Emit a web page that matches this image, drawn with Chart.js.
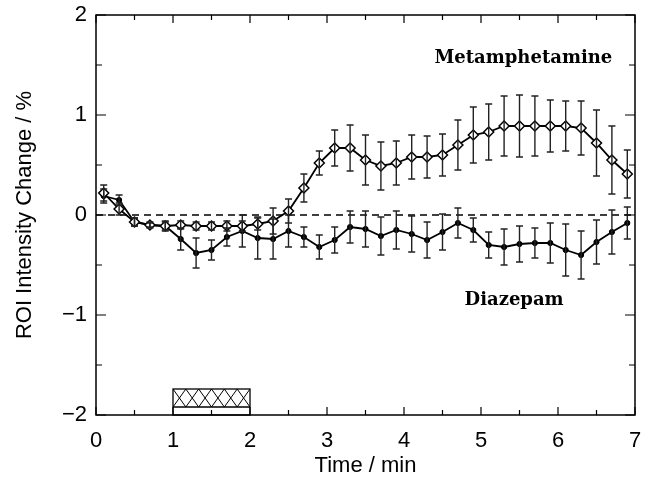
<!DOCTYPE html>
<html lang="en">

<head>
    <meta charset="utf-8">
    <title>ROI intensity change</title>
    <script src="https://cdn.jsdelivr.net/npm/chart.js@4.4.1/dist/chart.umd.min.js"></script>
    <style>
        html, body { margin: 0; padding: 0; background: #fff; }
        #wrap { position: relative; width: 645px; height: 484px; }
    </style>
</head>

<body>
    <div id="wrap">
        <canvas id="roi"></canvas>
    </div>
    <script>
        // sample times (min)
        const times = [0.1, 0.3, 0.5, 0.7, 0.9, 1.1, 1.3, 1.5, 1.7, 1.9,
            2.1, 2.3, 2.5, 2.7, 2.9, 3.1, 3.3, 3.5, 3.7, 3.9,
            4.1, 4.3, 4.5, 4.7, 4.9, 5.1, 5.3, 5.5, 5.7, 5.9,
            6.1, 6.3, 6.5, 6.7, 6.9];

        const methValues = [0.22, 0.06, -0.07, -0.10, -0.11,
            -0.10, -0.11, -0.11, -0.11, -0.11,
            -0.09, -0.06, 0.04, 0.27, 0.52,
            0.67, 0.67, 0.55, 0.49, 0.52,
            0.58, 0.58, 0.60, 0.70, 0.80,
            0.83, 0.89, 0.89, 0.89, 0.89,
            0.89, 0.87, 0.72, 0.55, 0.41];
        const methErrors = [0.08, 0.06, 0.04, 0.02, 0.04,
            0.04, 0.04, 0.04, 0.05, 0.05,
            0.06, 0.13, 0.12, 0.14, 0.12,
            0.18, 0.23, 0.25, 0.24, 0.22,
            0.22, 0.21, 0.21, 0.25, 0.28,
            0.28, 0.30, 0.31, 0.30, 0.26,
            0.25, 0.27, 0.33, 0.34, 0.24];

        const diazValues = [0.19, 0.15, -0.07, -0.10, -0.11,
            -0.24, -0.38, -0.35, -0.22, -0.16,
            -0.23, -0.24, -0.16, -0.22, -0.32,
            -0.25, -0.12, -0.14, -0.21, -0.15,
            -0.19, -0.25, -0.17, -0.08, -0.15,
            -0.30, -0.32, -0.29, -0.28, -0.28,
            -0.35, -0.40, -0.27, -0.17, -0.08];
        const diazErrors = [0.07, 0.05, 0.04, 0.03, 0.05,
            0.11, 0.15, 0.10, 0.09, 0.16,
            0.21, 0.20, 0.16, 0.10, 0.12,
            0.13, 0.16, 0.18, 0.19, 0.19,
            0.18, 0.18, 0.18, 0.15, 0.12,
            0.13, 0.18, 0.18, 0.15, 0.20,
            0.26, 0.24, 0.22, 0.22, 0.16];

        // drug application bar (min) and its vertical extent (%)
        const stimulus = [1, 2];
        const stimulusLevels = [-2, -1.92, -1.74];

        // text labels: [text, x, y]
        const seriesLabels = [['Metamphetamine', 5.55, 1.57], ['Diazepam', 5.43, -0.85]];

        const toPoints = (values) => times.map((t, i) => ({ x: t, y: values[i] }));
        const errorSets = [methErrors, diazErrors];

        const decorPlugin = {
            id: 'decor',
            beforeDatasetsDraw(chart) {
                const { ctx, chartArea: area, scales: { x, y } } = chart;
                ctx.save();
                // zero line
                ctx.strokeStyle = '#000';
                ctx.lineWidth = 1.5;
                ctx.setLineDash([7, 5]);
                ctx.beginPath();
                ctx.moveTo(area.left, y.getPixelForValue(0));
                ctx.lineTo(area.right, y.getPixelForValue(0));
                ctx.stroke();
                ctx.setLineDash([]);

                // hatched stimulus bar
                const x0 = x.getPixelForValue(stimulus[0]);
                const x1 = x.getPixelForValue(stimulus[1]);
                const yb = y.getPixelForValue(stimulusLevels[0]);
                const ym = y.getPixelForValue(stimulusLevels[1]);
                const yt = y.getPixelForValue(stimulusLevels[2]);
                ctx.fillStyle = '#fff';
                ctx.fillRect(x0, yt, x1 - x0, yb - yt);
                ctx.save();
                ctx.beginPath();
                ctx.rect(x0, yt, x1 - x0, ym - yt);
                ctx.clip();
                ctx.lineWidth = 1;
                const cell = (x1 - x0) / 6;
                ctx.beginPath();
                for (let px = x0 - cell; px < x1 + cell; px += cell) {
                    ctx.moveTo(px, ym);
                    ctx.lineTo(px + cell, yt);
                    ctx.moveTo(px, yt);
                    ctx.lineTo(px + cell, ym);
                }
                ctx.stroke();
                ctx.restore();
                ctx.lineWidth = 1.3;
                ctx.strokeRect(x0, yt, x1 - x0, yb - yt);
                ctx.beginPath();
                ctx.moveTo(x0, ym);
                ctx.lineTo(x1, ym);
                ctx.stroke();
                ctx.restore();
            },
            afterDatasetsDraw(chart) {
                const { ctx, chartArea: area, scales: { x, y } } = chart;
                ctx.save();
                // error bars
                ctx.strokeStyle = '#222';
                ctx.lineWidth = 1.4;
                chart.data.datasets.forEach((ds, di) => {
                    const errs = errorSets[di];
                    ds.data.forEach((p, i) => {
                        const px = x.getPixelForValue(p.x);
                        const top = y.getPixelForValue(p.y + errs[i]);
                        const bot = y.getPixelForValue(p.y - errs[i]);
                        ctx.beginPath();
                        ctx.moveTo(px, top);
                        ctx.lineTo(px, bot);
                        ctx.moveTo(px - 3.5, top);
                        ctx.lineTo(px + 3.5, top);
                        ctx.moveTo(px - 3.5, bot);
                        ctx.lineTo(px + 3.5, bot);
                        ctx.stroke();
                    });
                });

                // frame and inward ticks
                ctx.strokeStyle = '#000';
                ctx.lineWidth = 1.5;
                ctx.strokeRect(area.left, area.top, area.right - area.left, area.bottom - area.top);
                ctx.lineWidth = 1.2;
                ctx.beginPath();
                for (let v = 0; v <= 14; v++) {
                    const px = x.getPixelForValue(v / 2);
                    const len = v % 2 === 0 ? 8 : 5;
                    ctx.moveTo(px, area.bottom);
                    ctx.lineTo(px, area.bottom - len);
                    ctx.moveTo(px, area.top);
                    ctx.lineTo(px, area.top + len);
                }
                for (let v = -4; v <= 4; v++) {
                    const py = y.getPixelForValue(v / 2);
                    const len = v % 2 === 0 ? 10 : 6;
                    ctx.moveTo(area.left, py);
                    ctx.lineTo(area.left + len, py);
                    ctx.moveTo(area.right, py);
                    ctx.lineTo(area.right - len, py);
                }
                ctx.stroke();

                // series labels
                ctx.fillStyle = '#000';
                ctx.font = 'bold 18px "DejaVu Serif"';
                ctx.textAlign = 'center';
                ctx.textBaseline = 'middle';
                seriesLabels.forEach(([text, lx, ly]) => {
                    ctx.fillText(text, x.getPixelForValue(lx), y.getPixelForValue(ly));
                });
                ctx.restore();
            }
        };

        const tickFont = { family: '"Liberation Sans", Arial, sans-serif', size: 22 };

        // keep the plot box fixed: no extra room reserved for overhanging tick labels
        const fixBox = (size) => (scale) => {
            if (scale.isHorizontal()) {
                scale.height = size;
            } else {
                scale.width = size;
            }
            scale.paddingTop = 0;
            scale.paddingBottom = 0;
            scale.paddingLeft = 0;
            scale.paddingRight = 0;
        };

        new Chart(document.getElementById('roi'), {
            type: 'scatter',
            data: {
                datasets: [{
                    label: 'Metamphetamine',
                    data: toPoints(methValues),
                    showLine: true,
                    borderColor: '#000',
                    borderWidth: 1.8,
                    pointStyle: 'rectRot',
                    pointRadius: 5,
                    pointBackgroundColor: '#fff',
                    pointBorderColor: '#000',
                    pointBorderWidth: 1.5,
                }, {
                    label: 'Diazepam',
                    data: toPoints(diazValues),
                    showLine: true,
                    borderColor: '#000',
                    borderWidth: 1.8,
                    pointStyle: 'circle',
                    pointRadius: 2.6,
                    pointBackgroundColor: '#000',
                    pointBorderColor: '#000',
                    pointBorderWidth: 1,
                }]
            },
            options: {
                responsive: true,
                maintainAspectRatio: false,
                animation: false,
                layout: { padding: { left: 0, right: 10, top: 15, bottom: 0 } },
                plugins: {
                    legend: { display: false },
                    tooltip: { enabled: false },
                },
                scales: {
                    x: {
                        type: 'linear',
                        min: 0,
                        max: 7,
                        grid: { display: false, drawTicks: false },
                        border: { display: false },
                        ticks: { stepSize: 1, color: '#000', font: tickFont, padding: 13, maxRotation: 0 },
                        title: {
                            display: true,
                            text: 'Time / min',
                            color: '#000',
                            font: tickFont,
                            padding: { top: 0, bottom: 5 },
                        },
                        afterFit: fixBox(69),
                    },
                    y: {
                        type: 'linear',
                        min: -2,
                        max: 2,
                        grid: { display: false, drawTicks: false },
                        border: { display: false },
                        ticks: {
                            stepSize: 1,
                            color: '#000',
                            font: tickFont,
                            padding: 9,
                            callback: (v) => String(v).replace('-', '\u2212'),
                        },
                        title: {
                            display: true,
                            text: 'ROI Intensity Change / %',
                            color: '#000',
                            font: tickFont,
                            padding: { top: 12, bottom: 0 },
                        },
                        afterFit: fixBox(96),
                    },
                }
            },
            plugins: [decorPlugin]
        });
    </script>
</body>

</html>
